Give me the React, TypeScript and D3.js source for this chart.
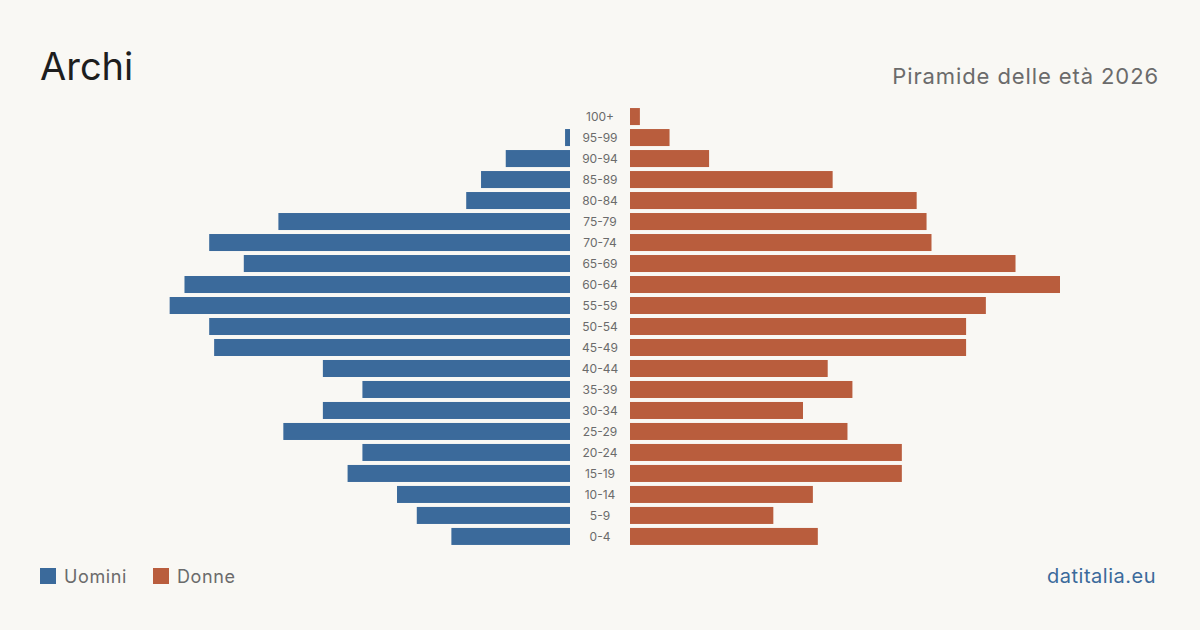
import React from 'react';
import * as d3 from 'd3';

const ageGroups = ['100+', '95-99', '90-94', '85-89', '80-84', '75-79', '70-74', '65-69', '60-64', '55-59', '50-54', '45-49', '40-44', '35-39', '30-34', '25-29', '20-24', '15-19', '10-14', '5-9', '0-4'];
const men = [0, 1, 13, 18, 21, 59, 73, 66, 78, 81, 73, 72, 50, 42, 50, 58, 42, 45, 35, 31, 24];
const women = [2, 8, 16, 41, 58, 60, 61, 78, 87, 72, 68, 68, 40, 45, 35, 44, 55, 55, 37, 29, 38];

const W = 1200;
const H = 630;
const BLUE = '#3b6a9b';
const RED = '#b95d3d';
const FONT = 'Inter, "Noto Sans", sans-serif';

const App: React.FC = () => {
  const center = 600;
  const gap = 30;
  const maxLen = 430;

  const y = d3.scaleBand<string>()
    .domain(ageGroups)
    .range([107, 546])
    .paddingInner(0.19)
    .paddingOuter(0.05);

  const x = d3.scaleLinear()
    .domain([0, d3.max([...men, ...women]) as number])
    .range([0, maxLen]);

  return (
    <svg width={W} height={H} style={{ position: 'absolute', left: 0, top: 0, background: '#f9f8f4' }}>
      <rect width={W} height={H} fill="#f9f8f4" />
      <text x={40} y={80} fontFamily={FONT} fontSize={38} fill="#1e1e1e">Archi</text>
      <text x={1159} y={84} textAnchor="end" fontFamily={FONT} fontSize={22} letterSpacing={0.9} fill="#6b6b6b">Piramide delle età 2026</text>

      {ageGroups.map((g, i) => {
        const yy = y(g) as number;
        const bh = y.bandwidth();
        const mw = x(men[i]);
        const ww = x(women[i]);
        return (
          <g key={g}>
            {mw > 0 && <rect x={center - gap - mw} y={yy} width={mw} height={bh} fill={BLUE} />}
            {ww > 0 && <rect x={center + gap} y={yy} width={ww} height={bh} fill={RED} />}
            <text x={center} y={yy + bh / 2} dy="0.35em" textAnchor="middle" fontFamily={FONT} fontSize={12} fill="#6b6b6b">{g}</text>
          </g>
        );
      })}

      <rect x={40} y={568} width={16} height={16} fill={BLUE} />
      <text x={64} y={583} fontFamily={FONT} fontSize={18} letterSpacing={0.6} fill="#6b6b6b">Uomini</text>
      <rect x={153} y={568} width={16} height={16} fill={RED} />
      <text x={177} y={583} fontFamily={FONT} fontSize={18} letterSpacing={0.6} fill="#6b6b6b">Donne</text>

      <text x={1156} y={583} textAnchor="end" fontFamily={FONT} fontSize={20} letterSpacing={0.5} fill={BLUE}>datitalia.eu</text>
    </svg>
  );
};

export default App;
